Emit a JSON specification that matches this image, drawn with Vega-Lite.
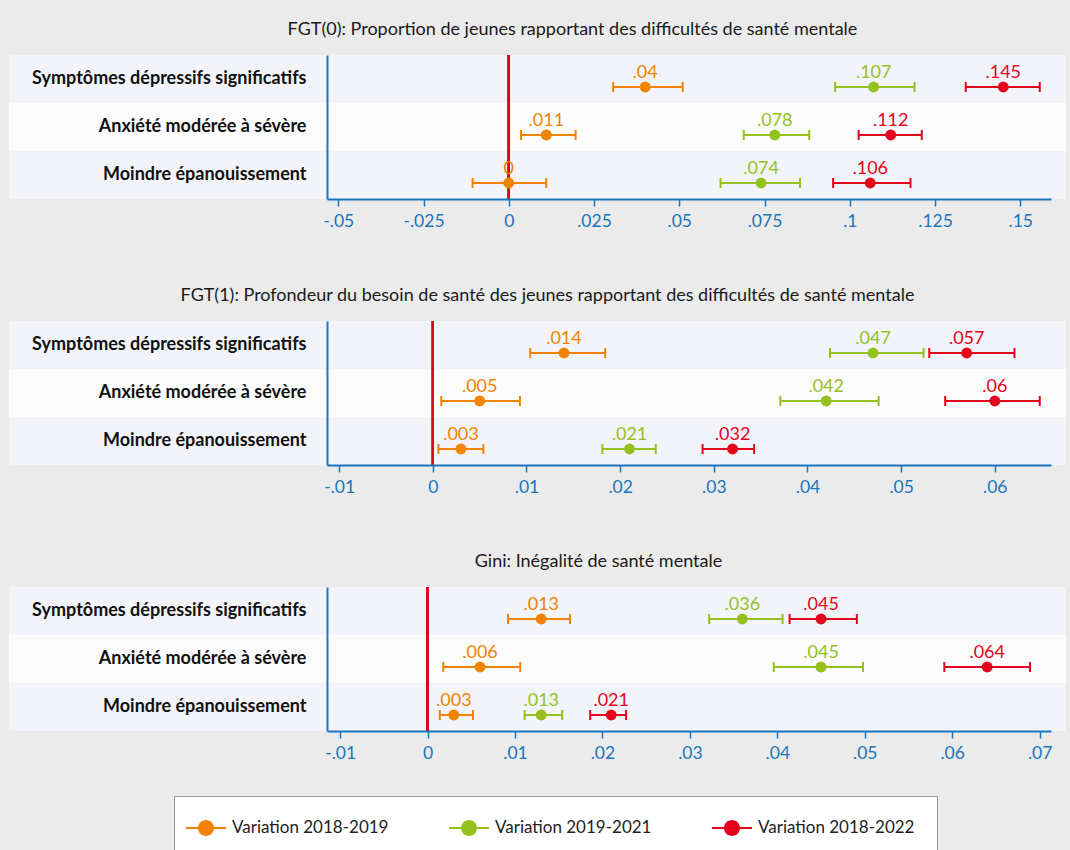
{
  "$schema": "https://vega.github.io/schema/vega-lite/v6.json",
  "background": "#ebebeb",
  "padding": {"left": 8, "top": 21, "right": 5, "bottom": 90},
  "config": {"view": {"stroke": null}},
  "data": {"values": [
    {"panel": "FGT0", "cat": "Symptômes dépressifs significatifs", "series": "Variation 2018-2019", "est": 0.04, "lo": 0.0306, "hi": 0.051, "lbl": ".04"},
    {"panel": "FGT0", "cat": "Symptômes dépressifs significatifs", "series": "Variation 2019-2021", "est": 0.107, "lo": 0.0957, "hi": 0.119, "lbl": ".107"},
    {"panel": "FGT0", "cat": "Symptômes dépressifs significatifs", "series": "Variation 2018-2022", "est": 0.145, "lo": 0.134, "hi": 0.1557, "lbl": ".145"},
    {"panel": "FGT0", "cat": "Anxiété modérée à sévère", "series": "Variation 2018-2019", "est": 0.011, "lo": 0.0036, "hi": 0.0196, "lbl": ".011"},
    {"panel": "FGT0", "cat": "Anxiété modérée à sévère", "series": "Variation 2019-2021", "est": 0.078, "lo": 0.0689, "hi": 0.0881, "lbl": ".078"},
    {"panel": "FGT0", "cat": "Anxiété modérée à sévère", "series": "Variation 2018-2022", "est": 0.112, "lo": 0.1026, "hi": 0.1211, "lbl": ".112"},
    {"panel": "FGT0", "cat": "Moindre épanouissement", "series": "Variation 2018-2019", "est": 0, "lo": -0.0106, "hi": 0.011, "lbl": "0"},
    {"panel": "FGT0", "cat": "Moindre épanouissement", "series": "Variation 2019-2021", "est": 0.074, "lo": 0.0621, "hi": 0.0854, "lbl": ".074"},
    {"panel": "FGT0", "cat": "Moindre épanouissement", "series": "Variation 2018-2022", "est": 0.106, "lo": 0.0951, "hi": 0.1178, "lbl": ".106"},
    {"panel": "FGT1", "cat": "Symptômes dépressifs significatifs", "series": "Variation 2018-2019", "est": 0.014, "lo": 0.0104, "hi": 0.0184, "lbl": ".014"},
    {"panel": "FGT1", "cat": "Symptômes dépressifs significatifs", "series": "Variation 2019-2021", "est": 0.047, "lo": 0.0424, "hi": 0.0524, "lbl": ".047"},
    {"panel": "FGT1", "cat": "Symptômes dépressifs significatifs", "series": "Variation 2018-2022", "est": 0.057, "lo": 0.053, "hi": 0.0621, "lbl": ".057"},
    {"panel": "FGT1", "cat": "Anxiété modérée à sévère", "series": "Variation 2018-2019", "est": 0.005, "lo": 0.0009, "hi": 0.0093, "lbl": ".005"},
    {"panel": "FGT1", "cat": "Anxiété modérée à sévère", "series": "Variation 2019-2021", "est": 0.042, "lo": 0.0371, "hi": 0.0476, "lbl": ".042"},
    {"panel": "FGT1", "cat": "Anxiété modérée à sévère", "series": "Variation 2018-2022", "est": 0.06, "lo": 0.0547, "hi": 0.0648, "lbl": ".06"},
    {"panel": "FGT1", "cat": "Moindre épanouissement", "series": "Variation 2018-2019", "est": 0.003, "lo": 0.0006, "hi": 0.0054, "lbl": ".003"},
    {"panel": "FGT1", "cat": "Moindre épanouissement", "series": "Variation 2019-2021", "est": 0.021, "lo": 0.0181, "hi": 0.0238, "lbl": ".021"},
    {"panel": "FGT1", "cat": "Moindre épanouissement", "series": "Variation 2018-2022", "est": 0.032, "lo": 0.0288, "hi": 0.0343, "lbl": ".032"},
    {"panel": "Gini", "cat": "Symptômes dépressifs significatifs", "series": "Variation 2018-2019", "est": 0.013, "lo": 0.0092, "hi": 0.0163, "lbl": ".013"},
    {"panel": "Gini", "cat": "Symptômes dépressifs significatifs", "series": "Variation 2019-2021", "est": 0.036, "lo": 0.0322, "hi": 0.0406, "lbl": ".036"},
    {"panel": "Gini", "cat": "Symptômes dépressifs significatifs", "series": "Variation 2018-2022", "est": 0.045, "lo": 0.0414, "hi": 0.0491, "lbl": ".045"},
    {"panel": "Gini", "cat": "Anxiété modérée à sévère", "series": "Variation 2018-2019", "est": 0.006, "lo": 0.0018, "hi": 0.0106, "lbl": ".006"},
    {"panel": "Gini", "cat": "Anxiété modérée à sévère", "series": "Variation 2019-2021", "est": 0.045, "lo": 0.0396, "hi": 0.0498, "lbl": ".045"},
    {"panel": "Gini", "cat": "Anxiété modérée à sévère", "series": "Variation 2018-2022", "est": 0.064, "lo": 0.0591, "hi": 0.0689, "lbl": ".064"},
    {"panel": "Gini", "cat": "Moindre épanouissement", "series": "Variation 2018-2019", "est": 0.003, "lo": 0.0014, "hi": 0.0052, "lbl": ".003"},
    {"panel": "Gini", "cat": "Moindre épanouissement", "series": "Variation 2019-2021", "est": 0.013, "lo": 0.0111, "hi": 0.0154, "lbl": ".013"},
    {"panel": "Gini", "cat": "Moindre épanouissement", "series": "Variation 2018-2022", "est": 0.021, "lo": 0.0186, "hi": 0.0227, "lbl": ".021"}
  ]},
  "resolve": {"scale": {"x": "independent", "y": "independent"}, "axis": {"x": "independent", "y": "independent"}},
  "spacing": 57,
  "vconcat": [
    {
      "title": {"text": "FGT(0): Proportion de jeunes rapportant des difficultés de santé mentale", "anchor": "middle", "frame": "bounds", "dx": 35, "offset": 15, "fontSize": 18, "fontWeight": "normal", "font": "Lato", "color": "#1a1a1a"},
      "width": 724, "height": 144,
      "transform": [{"filter": "datum.panel == 'FGT0'"}],
      "layer": [
        {"mark": {"type": "rect", "clip": false},
         "encoding": {
           "x": {"datum": -0.14655, "type": "quantitative", "scale": {"domain": [-0.0533, 0.159], "nice": false, "zero": false},
                 "axis": {"values": [-0.05, -0.025, 0, 0.025, 0.05, 0.075, 0.1, 0.125, 0.15], "labelExpr": "replace(toString(datum.value), '0.', '.')", "title": null, "grid": false, "domainColor": "#1a75bc", "domainWidth": 2, "tickColor": "#1a75bc", "tickSize": 7, "tickWidth": 1.5, "labelColor": "#1a75bc", "labelFontSize": 17.5, "labelFont": "Lato", "labelPadding": 6, "zindex": 1}},
           "x2": {"datum": 0.1634},
           "y": {"field": "cat", "type": "nominal", "sort": ["Symptômes dépressifs significatifs", "Anxiété modérée à sévère", "Moindre épanouissement"], "scale": {"paddingInner": 0, "paddingOuter": 0},
                 "axis": {"title": null, "ticks": false, "labelFontSize": 18, "labelFontWeight": "bold", "labelFont": "Lato", "labelColor": "#111111", "labelPadding": 21, "labelLimit": 400, "domainColor": "#1a75bc", "domainWidth": 2, "zindex": 1}},
           "color": {"condition": {"test": "datum.cat == 'Anxiété modérée à sévère'", "value": "#fcfcfc"}, "value": "#f3f4f9"}
         }},
        {"mark": {"type": "rule", "color": "#e3051b", "strokeWidth": 2}, "encoding": {"x": {"datum": 0}}},
        {"mark": {"type": "circle", "size": 120, "opacity": 1, "yOffset": 8},
         "encoding": {"x": {"field": "est", "type": "quantitative"}, "y": {"field": "cat", "type": "nominal", "sort": ["Symptômes dépressifs significatifs", "Anxiété modérée à sévère", "Moindre épanouissement"]},
           "color": {"field": "series", "type": "nominal", "scale": {"domain": ["Variation 2018-2019", "Variation 2019-2021", "Variation 2018-2022"], "range": ["#f08300", "#95c11f", "#e3051b"]},
             "legend": {"orient": "none", "legendX": -153, "legendY": 741, "direction": "horizontal", "columns": 3, "title": null, "symbolType": "M-2,-0.1L2,-0.1L2,0.1L-2,0.1Z M0.8,0A0.8,0.8,0,1,1,-0.8,0A0.8,0.8,0,1,1,0.8,0Z", "symbolSize": 400, "symbolStrokeWidth": 0, "labelFontSize": 17, "labelFont": "Lato", "labelColor": "#222222", "labelOffset": 16, "labelLimit": 300, "columnPadding": 60, "padding": 22, "strokeColor": "#9a9a9a", "fillColor": "#ffffff"}}}},
        {"mark": {"type": "rule", "strokeWidth": 2, "yOffset": 8},
         "encoding": {"x": {"field": "lo", "type": "quantitative"}, "x2": {"field": "hi"}, "y": {"field": "cat", "type": "nominal", "sort": ["Symptômes dépressifs significatifs", "Anxiété modérée à sévère", "Moindre épanouissement"]},
           "color": {"field": "series", "type": "nominal"}}},
        {"transform": [{"fold": ["lo", "hi"], "as": ["end", "xv"]}],
         "mark": {"type": "tick", "orient": "vertical", "size": 10, "thickness": 2, "opacity": 1, "yOffset": 8},
         "encoding": {"x": {"field": "xv", "type": "quantitative"}, "y": {"field": "cat", "type": "nominal", "sort": ["Symptômes dépressifs significatifs", "Anxiété modérée à sévère", "Moindre épanouissement"]},
           "color": {"field": "series", "type": "nominal"}}},
        {"mark": {"type": "text", "yOffset": -6, "fontSize": 18, "font": "Lato", "baseline": "middle"},
         "encoding": {"x": {"field": "est", "type": "quantitative"}, "y": {"field": "cat", "type": "nominal", "sort": ["Symptômes dépressifs significatifs", "Anxiété modérée à sévère", "Moindre épanouissement"]}, "text": {"field": "lbl"},
           "color": {"field": "series", "type": "nominal"}}}
      ]
    },
    {
      "title": {"text": "FGT(1): Profondeur du besoin de santé des jeunes rapportant des difficultés de santé mentale", "anchor": "middle", "frame": "bounds", "dx": 10, "offset": 15, "fontSize": 18, "fontWeight": "normal", "font": "Lato", "color": "#1a1a1a"},
      "width": 724, "height": 144,
      "transform": [{"filter": "datum.panel == 'FGT1'"}],
      "layer": [
        {"mark": {"type": "rect", "clip": false},
         "encoding": {
           "x": {"datum": -0.04525, "type": "quantitative", "scale": {"domain": [-0.0113, 0.066], "nice": false, "zero": false},
                 "axis": {"values": [-0.01, 0, 0.01, 0.02, 0.03, 0.04, 0.05, 0.06], "labelExpr": "replace(toString(datum.value), '0.', '.')", "title": null, "grid": false, "domainColor": "#1a75bc", "domainWidth": 2, "tickColor": "#1a75bc", "tickSize": 7, "tickWidth": 1.5, "labelColor": "#1a75bc", "labelFontSize": 17.5, "labelFont": "Lato", "labelPadding": 6, "zindex": 1}},
           "x2": {"datum": 0.0676},
           "y": {"field": "cat", "type": "nominal", "sort": ["Symptômes dépressifs significatifs", "Anxiété modérée à sévère", "Moindre épanouissement"], "scale": {"paddingInner": 0, "paddingOuter": 0},
                 "axis": {"title": null, "ticks": false, "labelFontSize": 18, "labelFontWeight": "bold", "labelFont": "Lato", "labelColor": "#111111", "labelPadding": 21, "labelLimit": 400, "domainColor": "#1a75bc", "domainWidth": 2, "zindex": 1}},
           "color": {"condition": {"test": "datum.cat == 'Anxiété modérée à sévère'", "value": "#fcfcfc"}, "value": "#f3f4f9"}
         }},
        {"mark": {"type": "rule", "color": "#e3051b", "strokeWidth": 2}, "encoding": {"x": {"datum": 0}}},
        {"mark": {"type": "circle", "size": 120, "opacity": 1, "yOffset": 8},
         "encoding": {"x": {"field": "est", "type": "quantitative"}, "y": {"field": "cat", "type": "nominal", "sort": ["Symptômes dépressifs significatifs", "Anxiété modérée à sévère", "Moindre épanouissement"]},
           "color": {"field": "series", "type": "nominal"}}},
        {"mark": {"type": "rule", "strokeWidth": 2, "yOffset": 8},
         "encoding": {"x": {"field": "lo", "type": "quantitative"}, "x2": {"field": "hi"}, "y": {"field": "cat", "type": "nominal", "sort": ["Symptômes dépressifs significatifs", "Anxiété modérée à sévère", "Moindre épanouissement"]},
           "color": {"field": "series", "type": "nominal"}}},
        {"transform": [{"fold": ["lo", "hi"], "as": ["end", "xv"]}],
         "mark": {"type": "tick", "orient": "vertical", "size": 10, "thickness": 2, "opacity": 1, "yOffset": 8},
         "encoding": {"x": {"field": "xv", "type": "quantitative"}, "y": {"field": "cat", "type": "nominal", "sort": ["Symptômes dépressifs significatifs", "Anxiété modérée à sévère", "Moindre épanouissement"]},
           "color": {"field": "series", "type": "nominal"}}},
        {"mark": {"type": "text", "yOffset": -6, "fontSize": 18, "font": "Lato", "baseline": "middle"},
         "encoding": {"x": {"field": "est", "type": "quantitative"}, "y": {"field": "cat", "type": "nominal", "sort": ["Symptômes dépressifs significatifs", "Anxiété modérée à sévère", "Moindre épanouissement"]}, "text": {"field": "lbl"},
           "color": {"field": "series", "type": "nominal"}}}
      ]
    },
    {
      "title": {"text": "Gini: Inégalité de santé mentale", "anchor": "middle", "frame": "bounds", "dx": 61, "offset": 15, "fontSize": 18, "fontWeight": "normal", "font": "Lato", "color": "#1a1a1a"},
      "width": 724, "height": 144,
      "transform": [{"filter": "datum.panel == 'Gini'"}],
      "layer": [
        {"mark": {"type": "rect", "clip": false},
         "encoding": {
           "x": {"datum": -0.04787, "type": "quantitative", "scale": {"domain": [-0.0115, 0.0713], "nice": false, "zero": false},
                 "axis": {"values": [-0.01, 0, 0.01, 0.02, 0.03, 0.04, 0.05, 0.06, 0.07], "labelExpr": "replace(toString(datum.value), '0.', '.')", "title": null, "grid": false, "domainColor": "#1a75bc", "domainWidth": 2, "tickColor": "#1a75bc", "tickSize": 7, "tickWidth": 1.5, "labelColor": "#1a75bc", "labelFontSize": 17.5, "labelFont": "Lato", "labelPadding": 6, "zindex": 1}},
           "x2": {"datum": 0.07302},
           "y": {"field": "cat", "type": "nominal", "sort": ["Symptômes dépressifs significatifs", "Anxiété modérée à sévère", "Moindre épanouissement"], "scale": {"paddingInner": 0, "paddingOuter": 0},
                 "axis": {"title": null, "ticks": false, "labelFontSize": 18, "labelFontWeight": "bold", "labelFont": "Lato", "labelColor": "#111111", "labelPadding": 21, "labelLimit": 400, "domainColor": "#1a75bc", "domainWidth": 2, "zindex": 1}},
           "color": {"condition": {"test": "datum.cat == 'Anxiété modérée à sévère'", "value": "#fcfcfc"}, "value": "#f3f4f9"}
         }},
        {"mark": {"type": "rule", "color": "#e3051b", "strokeWidth": 2}, "encoding": {"x": {"datum": 0}}},
        {"mark": {"type": "circle", "size": 120, "opacity": 1, "yOffset": 8},
         "encoding": {"x": {"field": "est", "type": "quantitative"}, "y": {"field": "cat", "type": "nominal", "sort": ["Symptômes dépressifs significatifs", "Anxiété modérée à sévère", "Moindre épanouissement"]},
           "color": {"field": "series", "type": "nominal"}}},
        {"mark": {"type": "rule", "strokeWidth": 2, "yOffset": 8},
         "encoding": {"x": {"field": "lo", "type": "quantitative"}, "x2": {"field": "hi"}, "y": {"field": "cat", "type": "nominal", "sort": ["Symptômes dépressifs significatifs", "Anxiété modérée à sévère", "Moindre épanouissement"]},
           "color": {"field": "series", "type": "nominal"}}},
        {"transform": [{"fold": ["lo", "hi"], "as": ["end", "xv"]}],
         "mark": {"type": "tick", "orient": "vertical", "size": 10, "thickness": 2, "opacity": 1, "yOffset": 8},
         "encoding": {"x": {"field": "xv", "type": "quantitative"}, "y": {"field": "cat", "type": "nominal", "sort": ["Symptômes dépressifs significatifs", "Anxiété modérée à sévère", "Moindre épanouissement"]},
           "color": {"field": "series", "type": "nominal"}}},
        {"mark": {"type": "text", "yOffset": -6, "fontSize": 18, "font": "Lato", "baseline": "middle"},
         "encoding": {"x": {"field": "est", "type": "quantitative"}, "y": {"field": "cat", "type": "nominal", "sort": ["Symptômes dépressifs significatifs", "Anxiété modérée à sévère", "Moindre épanouissement"]}, "text": {"field": "lbl"},
           "color": {"field": "series", "type": "nominal"}}}
      ]
    }
  ]
}
